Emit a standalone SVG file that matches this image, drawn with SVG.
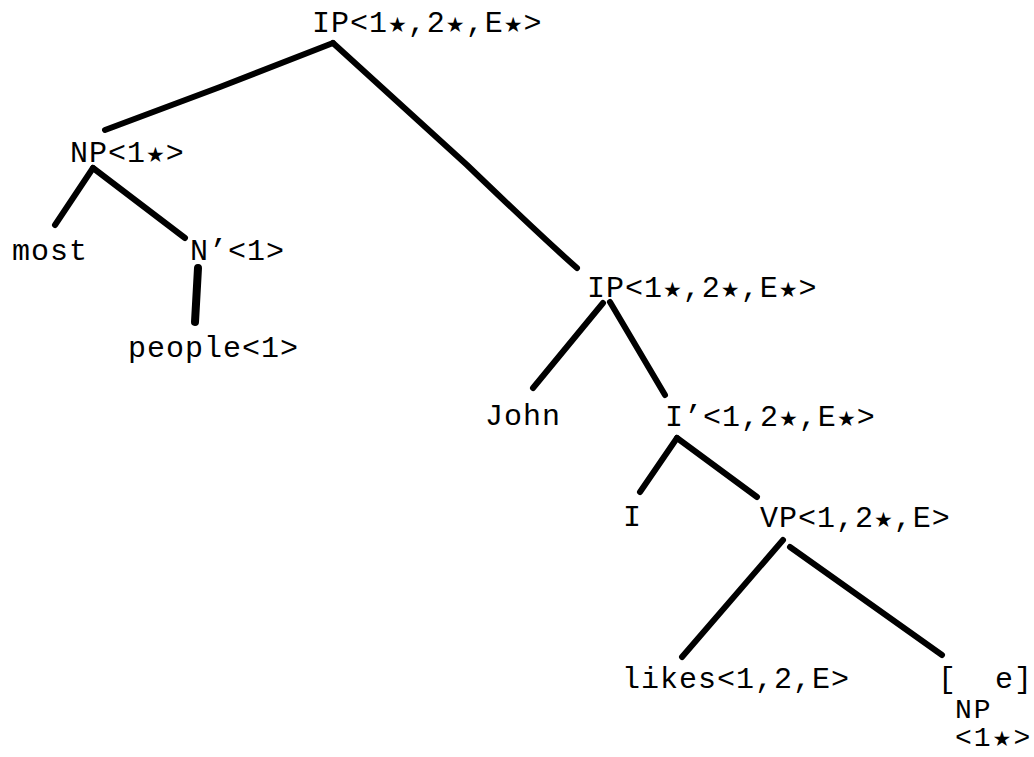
<svg xmlns="http://www.w3.org/2000/svg" width="1034" height="757" viewBox="0 0 1034 757">
<style>
.t{font-family:"Liberation Mono","DejaVu Sans Mono",monospace;font-size:30px;letter-spacing:1px;fill:#000}
.u{font-size:28px;letter-spacing:2px}
.s{font-family:"DejaVu Sans",sans-serif;font-size:21px}
.e{fill:none;stroke:#000;stroke-width:6;stroke-linecap:round;stroke-linejoin:round}
</style>
<rect width="1034" height="757" fill="#fff"/>
<g id="connectors">
<path class="e" d="M333,43 L220,87 L105,130"/>
<path class="e" d="M333,43 L467,165 Q545,240 577,268"/>
<path class="e" d="M93,168 L55,225"/>
<path class="e" d="M93,168 L185,238"/>
<path class="e" style="stroke-width:8" d="M198,268 L195,322"/>
<path class="e" d="M603,303 L533,388"/>
<path class="e" d="M610,302 L665,395"/>
<path class="e" d="M677,438 L640,492"/>
<path class="e" d="M677,438 L757,497"/>
<path class="e" d="M783,540 L682,657"/>
<path class="e" d="M790,547 L942,655"/>
</g>
<g id="n-ip-root"><text class="t" x="312" y="32">IP&lt;1<tspan class="s">★</tspan>,2<tspan class="s">★</tspan>,E<tspan class="s">★</tspan>&gt;</text></g>
<g id="n-np"><text class="t" x="70" y="162">NP&lt;1<tspan class="s">★</tspan>&gt;</text></g>
<g id="n-most"><text class="t" x="12" y="260">most</text></g>
<g id="n-nbar"><text class="t" x="190" y="260">N’&lt;1&gt;</text></g>
<g id="n-people"><text class="t" x="128" y="357">people&lt;1&gt;</text></g>
<g id="n-ip2"><text class="t" x="587" y="297">IP&lt;1<tspan class="s">★</tspan>,2<tspan class="s">★</tspan>,E<tspan class="s">★</tspan>&gt;</text></g>
<g id="n-john"><text class="t" x="485" y="425">John</text></g>
<g id="n-ibar"><text class="t" x="665" y="426">I’&lt;1,2<tspan class="s">★</tspan>,E<tspan class="s">★</tspan>&gt;</text></g>
<g id="n-i"><text class="t" x="623" y="526">I</text></g>
<g id="n-vp"><text class="t" x="760" y="527">VP&lt;1,2<tspan class="s">★</tspan>,E&gt;</text></g>
<g id="n-likes"><text class="t" x="622" y="688">likes&lt;1,2,E&gt;</text></g>
<g id="n-empty">
<text class="t" x="938" y="688" xml:space="preserve">[  e]</text>
<text class="t u" x="955" y="718">NP</text>
<text class="t u" x="955" y="746">&lt;1<tspan class="s">★</tspan>&gt;</text>
</g>
</svg>
